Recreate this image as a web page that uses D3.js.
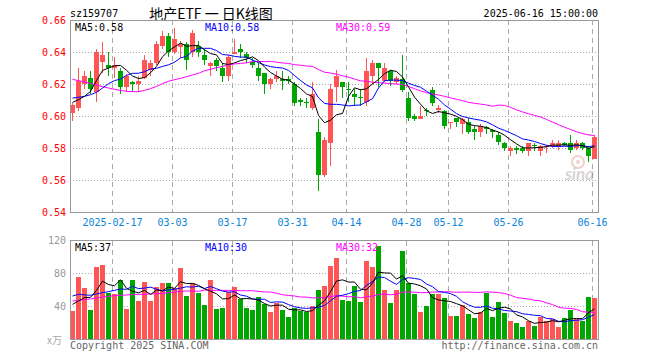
<!DOCTYPE html>
<html>
<head>
<meta charset="utf-8">
<script src="https://cdn.jsdelivr.net/npm/d3@7"></script>
<style>
  body { margin: 0; background: #fff; }
  svg { display: block; }
  text { font-family: "DejaVu Sans Mono", "Liberation Mono", monospace; font-size: 10px; white-space: pre; }
</style>
</head>
<body>
<svg id="chart" width="660" height="360"></svg>
<script>
// Daily K-line for sz159707, 2025-02-06 .. 2025-06-16

const dates = [
  '02-06','02-07','02-10','02-11','02-12','02-13','02-14','02-17','02-18','02-19','02-20','02-21',
  '02-24','02-25','02-26','02-27','02-28',
  '03-03','03-04','03-05','03-06','03-07','03-10','03-11','03-12','03-13','03-14',
  '03-17','03-18','03-19','03-20','03-21','03-24','03-25','03-26','03-27','03-28','03-31',
  '04-01','04-02','04-03','04-07','04-08','04-09','04-10','04-11','04-14','04-15','04-16','04-17','04-18',
  '04-21','04-22','04-23','04-24','04-25','04-28','04-29','04-30',
  '05-06','05-07','05-08','05-09','05-12','05-13','05-14','05-15','05-16',
  '05-19','05-20','05-21','05-22','05-23','05-26','05-27','05-28','05-29','05-30',
  '06-03','06-04','06-05','06-06','06-09','06-10','06-11','06-12','06-13','06-16'
];

const open = [
  .602,.605,.620,.624,.615,.634,.632,.630,.628,.618,.621,.620,.624,.629,.633,.644,.650,.640,.643,.645,
  .640,.644,.638,.631,.635,.630,.625,.639,.642,.639,.634,.630,.627,.620,.623,.623,.623,.620,.610,.609,
  .605,.590,.563,.583,.618,.621,.617,.614,.612,.609,.625,.633,.622,.628,.621,.623,.611,.600,.598,.604,
  .616,.604,.603,.596,.599,.595,.596,.592,.590,.593,.591,.588,.583,.578,.580,.580,.578,.582,.578,.581,
  .581,.581,.583,.583,.580,.583,.580,.573
];
const high = [
  .608,.630,.628,.628,.642,.646,.640,.637,.630,.626,.622,.625,.638,.635,.647,.653,.652,.655,.647,.646,
  .654,.647,.642,.634,.636,.633,.638,.648,.645,.640,.636,.633,.627,.624,.628,.628,.625,.621,.611,.611,
  .621,.598,.587,.620,.629,.621,.621,.617,.617,.636,.635,.633,.633,.629,.625,.638,.615,.601,.606,.605,
  .618,.607,.604,.596,.599,.599,.599,.594,.595,.594,.592,.590,.584,.581,.581,.581,.583,.583,.582,.582,
  .585,.585,.584,.588,.585,.584,.581,.588
];
const low = [
  .597,.603,.617,.614,.609,.627,.625,.624,.614,.615,.615,.615,.623,.625,.632,.642,.637,.639,.636,.629,
  .637,.637,.632,.625,.628,.621,.622,.639,.636,.633,.630,.622,.614,.617,.621,.616,.620,.606,.606,.605,
  .604,.553,.562,.569,.609,.611,.609,.606,.606,.606,.620,.618,.621,.619,.620,.615,.597,.597,.598,.600,
  .606,.602,.592,.592,.593,.589,.589,.585,.587,.589,.586,.582,.578,.575,.576,.577,.575,.578,.575,.577,
  .580,.579,.581,.577,.579,.579,.571,.573
];
const close = [
  .607,.622,.625,.617,.640,.638,.630,.632,.618,.625,.620,.622,.635,.633,.645,.650,.640,.648,.645,.635,
  .652,.640,.635,.633,.631,.625,.637,.640,.640,.636,.632,.625,.620,.623,.625,.622,.622,.608,.609,.608,
  .614,.563,.585,.617,.625,.618,.616,.612,.611,.628,.633,.630,.630,.622,.624,.616,.599,.598,.600,.603,
  .608,.605,.594,.596,.596,.598,.590,.590,.594,.592,.590,.584,.580,.580,.579,.578,.583,.581,.581,.581,
  .583,.583,.582,.579,.583,.580,.575,.587
];
const volume = [
  34.6,76.2,62.8,35.8,88.3,90.3,56.0,55.2,72.1,37.0,72.1,46.7,70.1,46.7,64.0,68.1,68.9,62.0,87.1,53.2,
  68.9,56.8,41.8,72.1,37.0,38.6,58.0,64.0,49.1,38.6,35.8,51.9,42.6,33.8,43.9,35.8,27.7,37.8,34.6,33.8,
  41.0,60.0,64.9,89.5,99.2,47.9,46.7,64.9,45.9,95.6,88.3,113.7,60.0,44.7,60.0,107.7,68.9,55.2,33.8,41.0,
  54.8,54.8,50.7,28.9,28.0,41.8,30.9,26.5,32.9,56.8,27.7,45.9,32.5,22.4,20.4,15.6,22.9,16.8,27.5,22.5,
  24.5,15.6,26.5,36.0,24.9,22.9,52.0,50.0
];

// averages at the left edge need days before the chart starts
const ma5Lead = [0.6085, 0.6102, 0.6123, 0.6154];
const ma10Lead = [0.6112, 0.6117, 0.6123, 0.6133, 0.6148, 0.6175, 0.6202, 0.6221, 0.6231];
const ma30Lead = [
  0.6229,0.6221,0.6213,0.6204,0.6194,0.6183,0.6175,0.6167,0.6160,0.6154,0.6152,0.6152,0.6160,0.6171,0.6185,
  0.6202,0.6217,0.6227,0.6235,0.6246,0.6256,0.6267,0.6283,0.6292,0.6302,0.6310,0.6319,0.6325,0.6329
];
const volMa5Lead = [42.6, 46.7, 50.7, 51.1];
const volMa10Lead = [52.7, 54.8, 54.0, 53.6, 55.2, 56.8, 58.0, 59.6, 61.2];
const volMa30Lead = [
  46.7,47.5,48.3,49.1,50.3,51.5,52.3,53.2,53.6,54.0,54.4,54.8,54.8,55.2,55.6,
  56.0,56.8,57.6,58.4,58.8,58.8,58.4,60.0,59.6,59.6,59.6,59.6,59.2,59.2
];

const priceTicks = [0.54, 0.56, 0.58, 0.60, 0.62, 0.64, 0.66];
const volTicks = [40, 80, 120];
const dateTicks = ['02-17','03-03','03-17','03-31','04-14','04-28','05-12','05-26','06-16'];

const UP = '#ff5555', DOWN = '#00a600';
const MA_COLORS = ['#000000', '#0000ff', '#ff00ff'];

function movingAverage(values, n, lead) {
  return values.map((v, i) => i < n - 1 ? lead[i] : d3.mean(values.slice(i - n + 1, i + 1)));
}

const svg = d3.select('#chart');
const L = 70, R = 598;
const mainTop = 20, mainBottom = 212;
const volTop = 240.5, volBottom = 339.5;

const x = d3.scaleBand().domain(dates).range([L, R]);
const y = d3.scaleLinear().domain([0.54, 0.66]).range([mainBottom, mainTop]);
const yv = d3.scaleLinear().domain([0, 120]).range([volBottom, volTop]);
const cx = d => x(d) + 2.5;
const isUp = i => close[i] >= open[i];

const defs = svg.append('defs');
defs.append('clipPath').attr('id', 'clip-main')
  .append('rect').attr('x', L).attr('y', mainTop).attr('width', R - L).attr('height', mainBottom - mainTop);
defs.append('clipPath').attr('id', 'clip-vol')
  .append('rect').attr('x', L).attr('y', volTop).attr('width', R - L).attr('height', volBottom - volTop);

// header
svg.append('text').attr('x', 70).attr('y', 17).attr('fill', '#000').text('sz159707');
svg.append('text').attr('x', 211).attr('y', 19).attr('text-anchor', 'middle')
  .style('font-family', '"Noto Sans CJK SC", sans-serif').style('font-size', '14px')
  .text('地产ETF 一 日K线图');
svg.append('text').attr('x', 598).attr('y', 17).attr('text-anchor', 'end').text('2025-06-16 15:00:00');

// grid: dotted horizontals, dashed verticals at the date ticks
const grid = svg.append('g').attr('shape-rendering', 'crispEdges');
grid.selectAll('.hgrid').data(priceTicks.slice(1, -1)).join('line')
  .attr('x1', L).attr('x2', R).attr('y1', d => Math.round(y(d)) + 0.5).attr('y2', d => Math.round(y(d)) + 0.5)
  .attr('stroke', '#aaa').attr('stroke-dasharray', '1,2');
grid.selectAll('.vgrid').data(volTicks.slice(0, -1)).join('line')
  .attr('x1', L).attr('x2', R).attr('y1', d => Math.floor(yv(d)) + 0.5).attr('y2', d => Math.floor(yv(d)) + 0.5)
  .attr('stroke', '#aaa').attr('stroke-dasharray', '1,2');
[[mainTop, mainBottom], [volTop, volBottom]].forEach(([t, b]) => {
  grid.append('g').selectAll('line').data(dateTicks).join('line')
    .attr('x1', d => x(d) + 0.5).attr('x2', d => x(d) + 0.5).attr('y1', t).attr('y2', b)
    .attr('stroke', '#aaa').attr('stroke-dasharray', '5,4');
});

// sina watermark
const wm = svg.append('g').attr('opacity', 0.35);
wm.append('circle').attr('cx', 578).attr('cy', 162).attr('r', 6).attr('fill', 'none').attr('stroke', '#d77').attr('stroke-width', 2);
wm.append('circle').attr('cx', 578).attr('cy', 162).attr('r', 2).attr('fill', '#d77');
wm.append('text').attr('x', 594).attr('y', 180).attr('text-anchor', 'end')
  .style('font-family', 'Lato, sans-serif').style('font-size', '17px').style('font-weight', 'bold').style('font-style', 'italic')
  .attr('fill', '#888').text('sina');

// candles
const candles = svg.append('g').attr('clip-path', 'url(#clip-main)').attr('shape-rendering', 'crispEdges');
candles.selectAll('line').data(dates).join('line')
  .attr('x1', cx).attr('x2', cx)
  .attr('y1', (d, i) => y(high[i])).attr('y2', (d, i) => y(low[i]))
  .attr('stroke', (d, i) => isUp(i) ? UP : DOWN);
candles.selectAll('rect').data(dates).join('rect')
  .attr('x', d => x(d)).attr('width', 5)
  .attr('y', (d, i) => y(Math.max(open[i], close[i])))
  .attr('height', (d, i) => Math.max(1, Math.abs(y(open[i]) - y(close[i]))))
  .attr('fill', (d, i) => isUp(i) ? UP : DOWN);

// volume bars
svg.append('g').attr('shape-rendering', 'crispEdges').selectAll('rect').data(dates).join('rect')
  .attr('x', d => x(d)).attr('width', 5)
  .attr('y', (d, i) => yv(volume[i])).attr('height', (d, i) => volBottom - yv(volume[i]))
  .attr('fill', (d, i) => isUp(i) ? UP : DOWN);

// moving averages
const priceMA = [movingAverage(close, 5, ma5Lead), movingAverage(close, 10, ma10Lead), movingAverage(close, 30, ma30Lead)];
const volMA = [movingAverage(volume, 5, volMa5Lead), movingAverage(volume, 10, volMa10Lead), movingAverage(volume, 30, volMa30Lead)];

const priceLine = d3.line().x((v, i) => cx(dates[i])).y(v => y(v));
const volLine = d3.line().x((v, i) => cx(dates[i])).y(v => yv(v));
svg.append('g').attr('clip-path', 'url(#clip-main)').selectAll('path').data(priceMA.slice().reverse()).join('path')
  .attr('d', priceLine).attr('fill', 'none').attr('stroke', (d, i) => MA_COLORS[2 - i]).attr('stroke-width', 1);
svg.append('g').attr('clip-path', 'url(#clip-vol)').selectAll('path').data(volMA.slice().reverse()).join('path')
  .attr('d', volLine).attr('fill', 'none').attr('stroke', (d, i) => MA_COLORS[2 - i]).attr('stroke-width', 1);

// panel borders
svg.append('rect').attr('x', L + 0.5).attr('y', mainTop + 0.5).attr('width', R - L).attr('height', mainBottom - mainTop)
  .attr('fill', 'none').attr('stroke', '#999').attr('shape-rendering', 'crispEdges');
svg.append('rect').attr('x', L + 0.5).attr('y', volTop).attr('width', R - L).attr('height', volBottom - volTop)
  .attr('fill', 'none').attr('stroke', '#999').attr('shape-rendering', 'crispEdges');

// legends
const last = dates.length - 1;
const legendX = [75, 205, 336];
['MA5', 'MA10', 'MA30'].forEach((name, k) => {
  svg.append('text').attr('x', legendX[k]).attr('y', 31).attr('fill', MA_COLORS[k])
    .text(`${name}:${priceMA[k][last].toFixed(2)}`);
  svg.append('text').attr('x', legendX[k]).attr('y', 251).attr('fill', MA_COLORS[k])
    .text(`${name}:${Math.floor(volMA[k][last])}`);
});

// axes
const yAxis = svg.append('g').attr('transform', `translate(${L},0)`)
  .call(d3.axisLeft(y).tickValues(priceTicks).tickFormat(d3.format('.2f')).tickSize(0).tickPadding(4));
yAxis.select('.domain').remove();
yAxis.selectAll('text').attr('fill', '#f00').style('font-size', '10px');

const vAxis = svg.append('g').attr('transform', `translate(${L},0)`)
  .call(d3.axisLeft(yv).tickValues(volTicks).tickSize(0).tickPadding(4));
vAxis.select('.domain').remove();
vAxis.selectAll('text').attr('fill', '#999').style('font-size', '10px');
svg.append('text').attr('x', 47).attr('y', 344).attr('fill', '#aaa')
  .style('font-family', '"Noto Sans CJK SC", sans-serif').text('x万');

const xAxis = svg.append('g').attr('transform', `translate(-2.5,${mainBottom})`)
  .call(d3.axisBottom(x).tickValues(dateTicks).tickSize(0).tickPadding(7)
    .tickFormat(d => d === dateTicks[0] ? '2025-' + d : d));
xAxis.select('.domain').remove();
xAxis.selectAll('text').attr('fill', '#0a84d8').style('font-size', '10px');

// footer
svg.append('text').attr('x', 70).attr('y', 349).attr('fill', '#666').text('Copyright 2025 SINA.COM');
svg.append('text').attr('x', 598).attr('y', 349).attr('text-anchor', 'end').attr('fill', '#666').text('http://finance.sina.com.cn');
</script>
</body>
</html>
